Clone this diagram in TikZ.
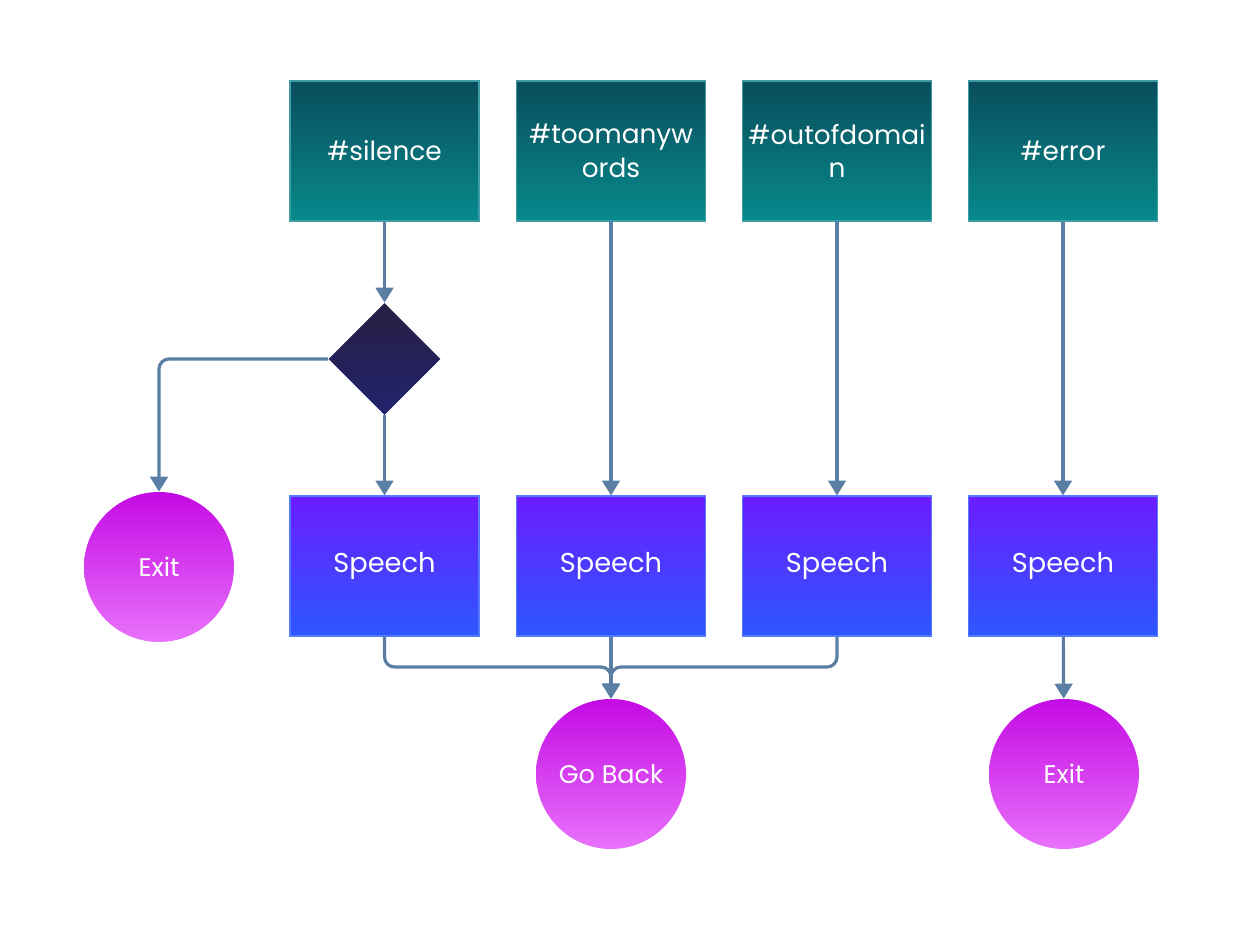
\documentclass[tikz,border=0pt]{standalone}
\usepackage{fontspec}
\setmainfont{Poppins}
\usetikzlibrary{shapes.geometric, arrows.meta}

\definecolor{tagtop}{HTML}{0A4D5C}
\definecolor{tagbottom}{HTML}{078A8C}
\definecolor{tagedge}{HTML}{3E9CA6}
\definecolor{speechtop}{HTML}{6C1CFF}
\definecolor{speechbottom}{HTML}{2B58FF}
\definecolor{endtop}{HTML}{C40AE4}
\definecolor{endbottom}{HTML}{E873FB}
\definecolor{choicetop}{HTML}{271F42}
\definecolor{choicebottom}{HTML}{21236E}
\definecolor{flowblue}{HTML}{5B7EA5}

\begin{document}
\begin{tikzpicture}[
        tag/.style = {minimum width = 3.78cm, minimum height = 2.8cm, inner sep = 0pt, top color = tagtop, bottom color = tagbottom, draw = tagedge, line width = 0.6pt, text = white, align = center, font = \fontsize{15}{19}\selectfont},
        speech/.style = {tag, top color = speechtop, bottom color = speechbottom, draw = speechbottom!80!white, font = \fontsize{15.5}{19}\selectfont},
        endcircle/.style = {circle, minimum size = 3cm, inner sep = 0pt, top color = endtop, bottom color = endbottom, text = white, font = \fontsize{14.5}{19}\selectfont},
        choice/.style = {diamond, aspect = 1, minimum size = 2.24cm, inner sep = 0pt, top color = choicetop, bottom color = choicebottom},
        flow/.style = {draw = flowblue, line width = 1.8pt, rounded corners = 0.2cm, -{Triangle[width = 10pt, length = 8.5pt]}}]
    \useasboundingbox (0, 0) rectangle (24.98, 18.62);

    % top row
    \node[tag] (silence) at (7.69, 15.6) {\#silence};
    \node[tag] (toomany) at (12.22, 15.6) {\#toomanyw\\ords};
    \node[tag] (domain)  at (16.74, 15.6) {\#outofdomai\\n};
    \node[tag] (error)   at (21.26, 15.6) {\#error};

    \node[choice] (check) at (7.69, 11.44) {};

    % speech row
    \node[speech] (speechA) at (7.69, 7.3) {Speech};
    \node[speech] (speechB) at (12.22, 7.3) {Speech};
    \node[speech] (speechC) at (16.74, 7.3) {Speech};
    \node[speech] (speechD) at (21.26, 7.3) {Speech};

    \node[endcircle] (exitA) at (3.18, 7.28) {Exit};
    \node[endcircle] (goback) at (12.22, 3.14) {Go Back};
    \node[endcircle] (exitB) at (21.28, 3.14) {Exit};

    \coordinate (merge) at (12.22, 5.28);

    \draw[flow] (silence) -- (check);
    \draw[flow] (check.west) -| (exitA.north);
    \draw[flow] (check) -- (speechA);
    \draw[flow] (toomany) -- (speechB);
    \draw[flow] (domain) -- (speechC);
    \draw[flow] (error) -- (speechD);
    \draw[flow] (speechA.south) |- (merge) -- (goback.north);
    \draw[flow] (speechC.south) |- (merge) -- (goback.north);
    \draw[flow] (speechB) -- (goback);
    \draw[flow] (speechD) -- (exitB);
\end{tikzpicture}
\end{document}
